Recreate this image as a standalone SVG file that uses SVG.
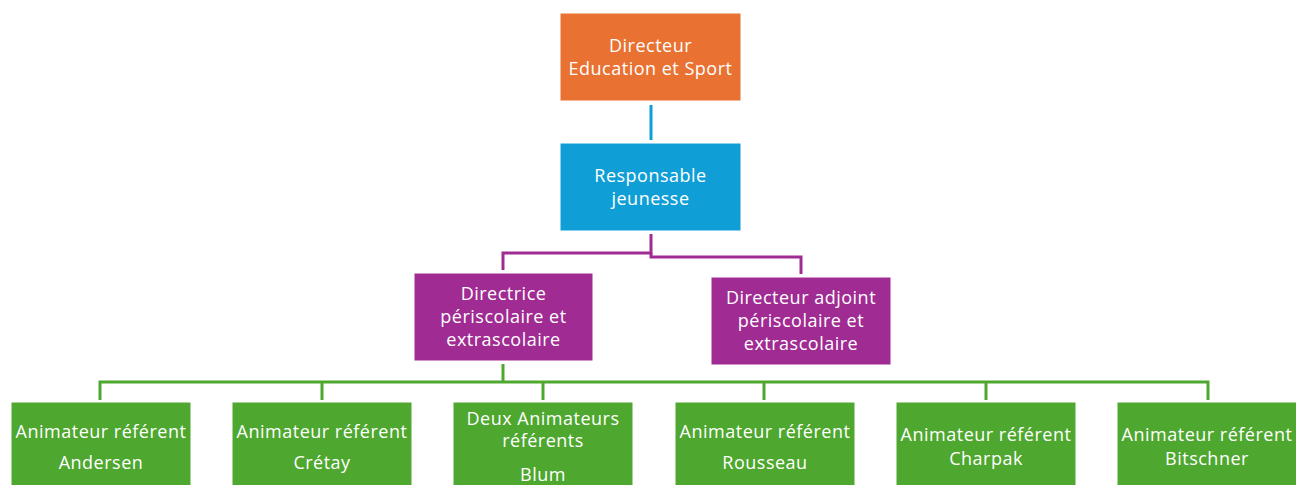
<svg xmlns="http://www.w3.org/2000/svg" width="1296" height="485" viewBox="0 0 1296 485">
<style>
  .box { stroke: #ffffff; stroke-width: 1; }
  .orange { fill: #E97132; }
  .blue { fill: #0F9ED5; }
  .purple { fill: #A02B93; }
  .green { fill: #4EA72E; }
  .t { font-family: "Open Sans", "Liberation Sans", sans-serif; font-size: 18px; letter-spacing: 0.5px; fill: #ffffff; text-anchor: middle; }
  .c { fill: none; stroke-width: 3; }
</style>
<rect width="1296" height="485" fill="#ffffff"/>
<g id="connectors">
  <path class="c" stroke="#0F9ED5" d="M651,105 V140"/>
  <path class="c" stroke="#A02B93" d="M651,234 V253 H503 V270"/>
  <path class="c" stroke="#A02B93" d="M651,253 V257 H801 V274"/>
  <path class="c" stroke="#4EA72E" d="M503,364 V382"/>
  <path class="c" stroke="#4EA72E" d="M100,400 V382 H1208 V400"/>
  <path class="c" stroke="#4EA72E" d="M322,382 V400 M543,382 V400 M764,382 V400 M986,382 V400"/>
</g>
<g id="directeur">
  <rect class="box orange" x="560" y="13" width="181" height="88"/>
  <text class="t" x="650.5" y="52">Directeur</text>
  <text class="t" x="650.5" y="75">Education et Sport</text>
</g>
<g id="responsable">
  <rect class="box blue" x="560" y="143" width="181" height="88"/>
  <text class="t" x="650.5" y="182">Responsable</text>
  <text class="t" x="650.5" y="205">jeunesse</text>
</g>
<g id="directrice">
  <rect class="box purple" x="414" y="273" width="179" height="88"/>
  <text class="t" x="503.5" y="300">Directrice</text>
  <text class="t" x="503.5" y="323">périscolaire et</text>
  <text class="t" x="503.5" y="346">extrascolaire</text>
</g>
<g id="adjoint">
  <rect class="box purple" x="711" y="277" width="180" height="88"/>
  <text class="t" x="801" y="304">Directeur adjoint</text>
  <text class="t" x="801" y="327">périscolaire et</text>
  <text class="t" x="801" y="350">extrascolaire</text>
</g>
<g id="andersen">
  <rect class="box green" x="11" y="402" width="180" height="90"/>
  <text class="t" x="101" y="438">Animateur référent</text>
  <text class="t" x="101" y="469">Andersen</text>
</g>
<g id="cretay">
  <rect class="box green" x="232" y="402" width="180" height="90"/>
  <text class="t" x="322" y="438">Animateur référent</text>
  <text class="t" x="322" y="469">Crétay</text>
</g>
<g id="blum">
  <rect class="box green" x="453" y="402" width="180" height="90"/>
  <text class="t" x="543" y="425">Deux Animateurs</text>
  <text class="t" x="543" y="447">référents</text>
  <text class="t" x="543" y="481">Blum</text>
</g>
<g id="rousseau">
  <rect class="box green" x="675" y="402" width="180" height="90"/>
  <text class="t" x="765" y="438">Animateur référent</text>
  <text class="t" x="765" y="469">Rousseau</text>
</g>
<g id="charpak">
  <rect class="box green" x="896" y="402" width="180" height="90"/>
  <text class="t" x="986" y="441">Animateur référent</text>
  <text class="t" x="986" y="465">Charpak</text>
</g>
<g id="bitschner">
  <rect class="box green" x="1117" y="402" width="180" height="90"/>
  <text class="t" x="1207" y="441">Animateur référent</text>
  <text class="t" x="1207" y="465">Bitschner</text>
</g>
</svg>
